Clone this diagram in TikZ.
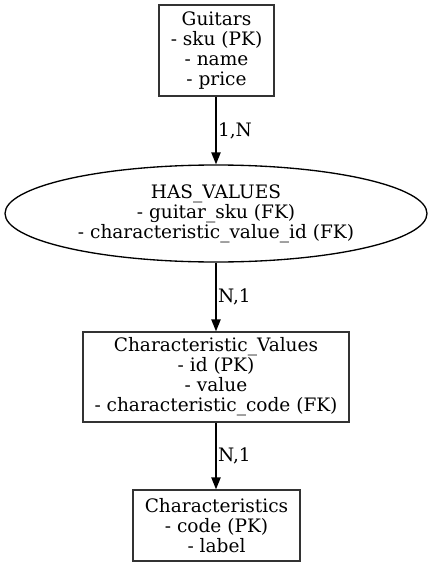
\documentclass[tikz,border=0pt]{standalone}
\usepackage{fontspec}
\setmainfont{DejaVu Serif}
\usetikzlibrary{shapes.geometric,arrows.meta}
\begin{document}
\begin{tikzpicture}[x=0.75pt,y=-0.75pt,
  every node/.style={font=\fontsize{13.9}{15}\selectfont, align=center, text=black},
  entity/.style={draw=black!80, line width=1pt, rectangle, inner sep=0pt},
  relation/.style={draw=black, line width=1pt, ellipse, inner sep=0pt},
  conn/.style={draw=black, line width=1pt, -{Triangle[length=9pt,width=7pt]}},
  card/.style={midway, anchor=west, inner sep=1pt}]
\useasboundingbox (0,0) rectangle (433,567);
\node[entity, minimum width=86.25pt, minimum height=68.25pt] (g) at (216.5,50.5)
  {Guitars\\- sku (PK)\\- name\\- price};
\node[relation, minimum width=316.5pt, minimum height=72.75pt] (hv) at (216,213.5)
  {HAS\_VALUES\\- guitar\_sku (FK)\\- characteristic\_value\_id (FK)};
\node[entity, minimum width=199.5pt, minimum height=67.5pt] (cv) at (216,377)
  {Characteristic\_Values\\- id (PK)\\- value\\- characteristic\_code (FK)};
\node[entity, minimum width=125.25pt, minimum height=53.25pt] (c) at (216.5,525.5)
  {Characteristics\\- code (PK)\\- label};
\draw[conn] (g.south -| hv.north) -- node[card] {1,N} (hv.north);
\draw[conn] (hv.south) -- node[card] {N,1} (cv.north -| hv.south);
\draw[conn] (cv.south) -- node[card] {N,1} (c.north -| cv.south);
\end{tikzpicture}
\end{document}
